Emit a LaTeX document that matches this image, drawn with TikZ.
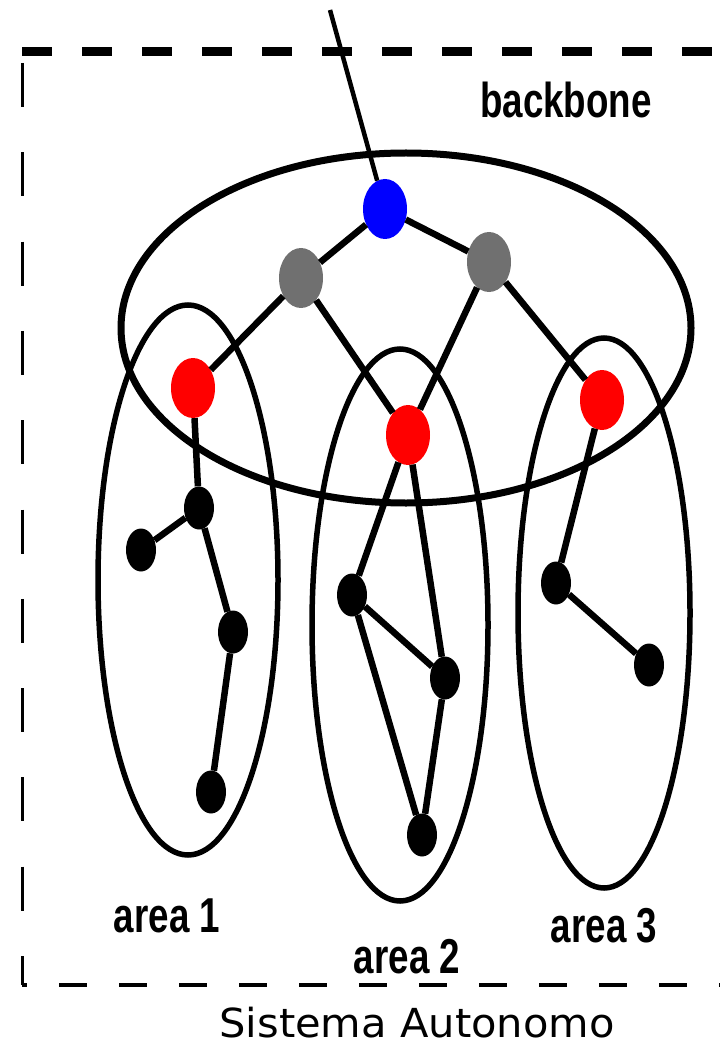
\documentclass[tikz,border=0pt]{standalone}
\usepackage{fontspec}
\usetikzlibrary{shapes.geometric}
\newfontfamily\labelfont[FakeStretch=0.75]{Liberation Sans}
\newfontfamily\captionfont[FakeStretch=1.04]{DejaVu Sans}
\definecolor{routergray}{RGB}{112,112,112}
\def\backbone{(406,328) ellipse (285 and 175)}
\def\areaone{(188,580) ellipse (90 and 275)}
\def\areatwo{(400,625) ellipse (88 and 276)}
\def\areathree{(604,613) ellipse (86 and 275)}

\begin{document}
\begin{tikzpicture}[x=1pt,y=-1pt,
    router/.style={ellipse,inner sep=0pt,minimum width=44pt,minimum height=60pt},
    host/.style={ellipse,fill=black,inner sep=0pt,minimum width=30pt,minimum height=43pt},
    link/.style={line width=6.5pt},
    areatext/.style={anchor=base,font=\labelfont\bfseries\fontsize{49}{54}\selectfont}]
    \useasboundingbox (0,0) rectangle (720,1048);
    % border of the autonomous system
    \draw[line width=9pt,dash pattern=on 30pt off 30pt] (22,52) -- (720,52);
    \draw[line width=3pt,dash pattern=on 44pt off 45.3pt] (22,63) -- (22,985);
    \draw[line width=4pt,dash pattern=on 28pt off 32pt,dash phase=23pt] (22,985) -- (720,985);
    % backbone and areas
    \draw[line width=7pt] \backbone;
    \draw[line width=5.5pt] \areaone;
    \draw[line width=5.5pt] \areatwo;
    \draw[line width=5.5pt] \areathree;
    % routers
    \node[router,fill=blue] (root) at (385,209) {};
    \node[router,fill=routergray] (bbl) at (301,278) {};
    \node[router,fill=routergray] (bbr) at (489,262) {};
    \node[router,fill=red] (abr1) at (193,388) {};
    \node[router,fill=red] (abr2) at (408,435) {};
    \node[router,fill=red] (abr3) at (602,400) {};
    \node[host] (a1) at (199,508) {};
    \node[host] (a2) at (141,550) {};
    \node[host] (a3) at (233,632) {};
    \node[host] (a4) at (211,792) {};
    \node[host] (b1) at (352,595) {};
    \node[host] (b2) at (445,678) {};
    \node[host] (b3) at (422,835) {};
    \node[host] (c1) at (556,583) {};
    \node[host] (c2) at (649,665) {};
    \coordinate (uplink) at (330,10);
    \draw[line width=4.5pt] (uplink) -- (root);
    \draw[link] (bbl) -- (root) -- (bbr);
    \draw[link] (abr1) -- (bbl) -- (abr2) -- (bbr) -- (abr3);
    \draw[link] (abr1) -- (a1) -- (a2);
    \draw[link] (a1) -- (a3) -- (a4);
    \draw[link] (abr2) -- (b1) -- (b2) -- (abr2);
    \draw[link] (b1) -- (b3) -- (b2);
    \draw[link] (abr3) -- (c1) -- (c2);
    % labels
    \node[areatext] (bbtext) at (566,118) {backbone};
    \node[areatext] (area1) at (167,932) {area 1};
    \node[areatext] (area2) at (407,973) {area 2};
    \node[areatext] (area3) at (604,942) {area 3};
    \node[anchor=base,font=\captionfont\fontsize{40}{44}\selectfont] (as) at (417,1037) {Sistema Autonomo};
\end{tikzpicture}
\end{document}
